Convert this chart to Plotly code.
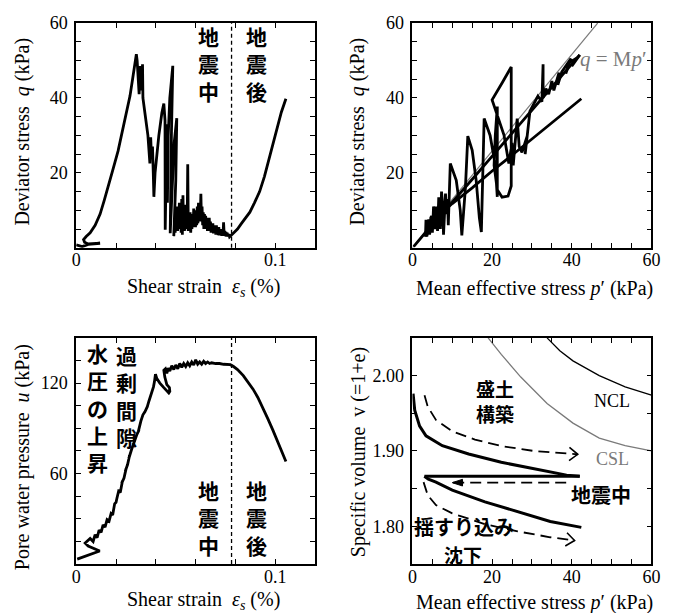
import math
import plotly.graph_objects as go

W, H = 681, 613

# ---------------- data ----------------
# Panel 1: deviator stress q (kPa) vs shear strain eps_s (%)
p1_eps = [0.0000, 0.0030, 0.0060, 0.0120, 0.0060, 0.0042, 0.0037,
          0.0050, 0.0070, 0.0095, 0.0120, 0.0140, 0.0160, 0.0185, 0.0210, 0.0230, 0.0250, 0.0270, 0.0283, 0.0295, 0.0302,
          0.0306, 0.0310, 0.0316, 0.0322, 0.0328, 0.0333, 0.0335, 0.0345, 0.0360, 0.0370, 0.0374, 0.0378, 0.0383, 0.0387,
          0.0390, 0.0396, 0.0403, 0.0415, 0.0430, 0.0440, 0.0446, 0.0448, 0.0447, 0.0450, 0.0453, 0.0456, 0.0458, 0.0462,
          0.0470, 0.0485, 0.0478, 0.0472, 0.0480, 0.0492, 0.0505, 0.0500, 0.0490,
          0.0494, 0.0497, 0.0500, 0.0503, 0.0506, 0.0509, 0.0512, 0.0515, 0.0518, 0.0521, 0.0524, 0.0527, 0.0530,
          0.0533, 0.0536, 0.0539, 0.0542, 0.0545, 0.0548, 0.0551, 0.0554, 0.0557, 0.0560, 0.0563, 0.0566, 0.0569,
          0.0572, 0.0575, 0.0578, 0.0581, 0.0584, 0.0587, 0.0590, 0.0593, 0.0596, 0.0599, 0.0602, 0.0605, 0.0608,
          0.0611, 0.0614, 0.0617, 0.0620, 0.0623, 0.0626, 0.0629, 0.0632, 0.0635, 0.0638, 0.0641, 0.0644, 0.0647,
          0.0650, 0.0653, 0.0656, 0.0659, 0.0662, 0.0665, 0.0668, 0.0671, 0.0674, 0.0677, 0.0680, 0.0683, 0.0686,
          0.0689, 0.0692, 0.0695, 0.0698, 0.0701, 0.0704, 0.0707, 0.0710, 0.0713, 0.0716, 0.0719, 0.0722, 0.0725,
          0.0728, 0.0731, 0.0734, 0.0737, 0.0740, 0.0743, 0.0746, 0.0749, 0.0752, 0.0755, 0.0758, 0.0762, 0.0766,
          0.0770, 0.0774,
          0.0790, 0.0810, 0.0830, 0.0850, 0.0872, 0.0895, 0.0921, 0.0945, 0.0970, 0.0990, 0.1010, 0.1030, 0.1053]
p1_q = [0.8, 0.3, 0.9, 1.2, 1.0, 1.5, 2.2,
        3.0, 4.0, 6.0, 9.0, 12.5, 16.0, 21.0, 25.8, 30.5, 35.5, 40.5, 45.0, 49.0, 51.7,
        50.0, 47.0, 41.0, 48.5, 42.0, 49.0, 40.0, 36.0, 30.0, 22.5, 29.5, 24.0, 27.0, 20.0,
        13.6, 20.0, 24.5, 30.0, 36.0, 38.5, 34.0, 20.0, 4.8, 15.0, 33.0, 26.0, 12.0, 30.0,
        40.0, 48.6, 30.0, 3.9, 12.0, 28.0, 34.6, 18.0, 3.1,
        7.0, 4.0, 9.5, 5.0, 11.0, 4.5, 8.5, 5.0, 12.0, 6.0, 9.0, 4.0, 13.0,
        3.5, 14.0, 5.5, 10.0, 4.5, 11.5, 6.0, 9.0, 5.0, 22.3, 4.5, 8.0, 5.5,
        9.5, 4.0, 8.0, 5.0, 9.0, 5.5, 10.5, 6.0, 9.0, 5.5, 10.0, 6.0, 11.0,
        6.5, 12.0, 7.0, 10.5, 8.0, 14.4, 7.0, 11.0, 6.0, 9.5, 5.0, 9.0, 5.5,
        8.5, 5.0, 8.0, 4.5, 7.5, 5.0, 8.0, 4.5, 7.0, 4.0, 6.5, 4.0, 6.5,
        3.8, 6.0, 3.8, 5.5, 3.5, 6.0, 3.6, 5.0, 3.4, 5.5, 3.3, 4.8, 3.3,
        5.0, 3.2, 4.5, 3.2, 6.8, 3.4, 4.5, 3.1, 4.2, 3.0, 4.0, 3.0, 3.6,
        2.9, 3.1,
        4.0, 5.0, 6.5, 8.0, 9.5, 12.0, 15.0, 19.0, 24.0, 28.5, 32.5, 36.2, 39.8]

# Panel 2: q vs mean effective stress p'
p2_build_p = [0.3, 2.0, 4.0, 6.0, 8.0, 10.0, 13.0, 16.0, 19.0, 22.0, 25.0, 28.0, 31.0, 34.0, 37.0, 40.0, 42.0]
p2_build_q = [0.3, 2.5, 5.0, 7.3, 9.8, 12.2, 15.8, 19.5, 23.2, 27.0, 30.7, 34.3, 38.0, 41.7, 45.4, 49.0, 51.5]
p2_eq_p = [42.0, 40.0, 41.5, 39.5, 38.5, 39.8, 37.5, 36.5, 36.8, 35.5, 35.0, 34.2, 33.5, 32.8, 32.8, 32.5, 31.5,
           30.5, 29.5, 28.3, 28.8, 27.5, 26.8, 26.3, 25.3, 25.0, 24.2, 23.0, 22.0, 20.0, 22.5, 24.8, 24.8, 24.8,
           24.0, 22.5, 21.3, 20.5, 20.8, 21.3, 21.3, 21.3, 20.8, 19.5, 18.0, 17.6, 17.3, 16.8, 16.0, 15.0, 13.9,
           13.3, 12.4, 12.0, 11.0, 9.5, 9.3, 9.0, 8.8, 8.5, 8.3, 8.0, 7.8, 7.6, 7.3, 7.1, 7.0, 6.8, 6.6, 6.4,
           6.3, 6.1, 6.0, 5.8, 5.6, 5.5, 5.3, 5.1, 5.0, 4.8, 4.6, 4.5, 4.3, 4.2, 4.0, 3.8, 3.6, 3.5, 3.4, 3.3, 3.2]
p2_eq_q = [51.5, 48.5, 50.8, 49.5, 46.5, 50.5, 47.0, 43.5, 46.8, 42.0, 44.5, 41.0, 42.5, 40.0, 49.0, 39.0, 40.5,
           38.5, 36.5, 25.0, 29.8, 25.5, 27.0, 34.5, 22.0, 28.0, 22.5, 30.0, 33.0, 39.5, 44.0, 48.3, 30.0, 16.5,
           13.8, 13.5, 15.5, 22.0, 30.0, 37.7, 25.0, 13.6, 22.0, 30.0, 34.5, 20.0, 4.2, 8.0, 18.0, 26.0, 29.8,
           16.0, 3.3, 10.0, 18.0, 22.5, 12.0, 6.0, 13.0, 9.0, 14.5, 8.0, 3.5, 11.0, 15.0, 8.0, 5.0, 12.0, 13.5, 7.0,
           4.5, 9.0, 11.0, 6.0, 5.0, 9.5, 11.0, 6.0, 4.0, 8.5, 8.0, 5.0, 3.5, 7.0, 7.5, 4.0, 3.0, 6.5, 7.5, 4.0, 3.0]
p2_post_p = [3.2, 4.5, 6.5, 10.0, 15.0, 20.0, 25.0, 30.0, 35.0, 38.5, 42.4]
p2_post_q = [3.0, 6.0, 8.5, 11.8, 16.0, 20.5, 24.7, 29.0, 33.3, 36.4, 39.8]
csl_line_p = [0.0, 46.5]
csl_line_q = [0.0, 60.0]

# Panel 3: pore water pressure u (kPa) vs shear strain
p3_eps = [0.0005, 0.0118, 0.0060, 0.0045, 0.0070, 0.0085, 0.0095, 0.0105, 0.0115, 0.0125, 0.0135, 0.0145, 0.0155,
          0.0165, 0.0175, 0.0183, 0.0193, 0.0200, 0.0205, 0.0215, 0.0212, 0.0222, 0.0232, 0.0228, 0.0240, 0.0250,
          0.0246, 0.0258, 0.0268, 0.0264, 0.0278, 0.0288, 0.0284, 0.0296, 0.0305, 0.0316, 0.0312, 0.0325, 0.0335,
          0.0345, 0.0357, 0.0365, 0.0372, 0.0380, 0.0388, 0.0393,
          0.0398, 0.0405, 0.0420, 0.0440, 0.0455, 0.0465, 0.0470, 0.0468, 0.0455, 0.0445, 0.0440, 0.0448, 0.0455,
          0.0462, 0.0470, 0.0480, 0.0490, 0.0500, 0.0510, 0.0520, 0.0530, 0.0540, 0.0550, 0.0560, 0.0570, 0.0580,
          0.0590, 0.0600, 0.0610, 0.0620, 0.0630, 0.0640, 0.0650, 0.0660, 0.0670, 0.0680, 0.0700, 0.0720, 0.0740,
          0.0760, 0.0774, 0.0790, 0.0810, 0.0839, 0.0865, 0.0888, 0.0912, 0.0937, 0.0962, 0.0987, 0.1008, 0.1028,
          0.1053]
p3_u = [3.3, 8.7, 12.0, 14.0, 17.0, 15.0, 19.5, 17.5, 22.5, 21.0, 26.0, 24.5, 29.5,
        28.5, 33.5, 32.5, 40.0, 41.0, 44.0, 49.5, 47.5, 48.0, 55.0, 53.5, 57.0, 63.0,
        61.5, 66.0, 72.0, 70.0, 76.0, 80.0, 78.5, 83.5, 86.0, 89.0, 88.0, 95.0, 99.0,
        101.0, 104.4, 108.0, 111.0, 113.5, 117.5, 121.0,
        126.0, 123.0, 120.0, 117.0, 115.0, 113.5, 114.5, 117.0, 119.0, 124.0, 128.5, 129.5, 126.5,
        130.0, 128.0, 131.5, 129.0, 132.0, 129.5, 133.0, 130.5, 133.0, 131.0, 133.5, 131.5, 134.0,
        132.0, 135.5, 132.5, 134.0, 132.5, 134.5, 133.0, 134.0, 133.0, 133.5, 133.0, 133.0, 132.5,
        132.5, 132.2, 131.0, 129.0, 125.0, 120.5, 116.0, 110.5, 104.0, 96.5, 89.0, 82.0, 76.0,
        68.0]
eq_end_strain = 0.078

# Panel 4: specific volume v vs p'
ncl_p = [33.8, 37.0, 40.3, 46.9, 53.4, 60.0]
ncl_v = [2.050, 2.033, 2.0195, 2.000, 1.985, 1.974]
csl_p = [19.0, 22.3, 27.2, 33.8, 40.3, 46.9, 53.4, 60.0]
csl_v = [2.050, 2.028, 1.998, 1.963, 1.937, 1.917, 1.907, 1.900]
build_p = [0.16, 0.57, 1.8, 3.4, 7.5, 14.1, 22.3, 30.5, 38.7, 42.0]
build_v = [1.976, 1.954, 1.933, 1.920, 1.907, 1.896, 1.885, 1.876, 1.868, 1.8665]
quake_p = [42.0, 3.0]
quake_v = [1.8665, 1.8665]
settle_p = [3.0, 4.0, 5.9, 10.0, 18.2, 26.4, 34.6, 42.4]
settle_v = [1.8665, 1.8625, 1.8587, 1.848, 1.8326, 1.8196, 1.8065, 1.7987]
arrow1_p = [3.03, 3.85, 5.90, 10.0, 15.7, 22.3, 30.5, 40.3, 41.5]
arrow1_v = [1.9738, 1.9587, 1.9412, 1.9261, 1.9152, 1.9065, 1.9000, 1.8958, 1.8956]
arrow2_p = [38.6, 10.0]
arrow2_v = [1.858, 1.858]
arrow3_p = [2.79, 3.85, 5.90, 10.0, 18.2, 26.4, 34.6, 40.7]
arrow3_v = [1.8587, 1.8413, 1.8283, 1.8173, 1.8030, 1.7934, 1.7856, 1.7813]

# ---------------- layout geometry ----------------
LX = (72.7, 316.7)
RX = (416.0, 660.0)
TY = (13.3, 241.7)
BY = (333.3, 563.3)

def xdom(px):
    return [px[0] / W, px[1] / W]

def ydom(py):
    return [1 - py[1] / H, 1 - py[0] / H]

SERIF = "Liberation Serif, Times New Roman, DejaVu Serif, serif"
CJK = "Noto Sans CJK JP"
BLACK = "#000000"
GRAY = "#7a7a7a"

fig = go.Figure()

def line(x, y, xa, ya, width=2.8, color=BLACK, dash=None):
    fig.add_trace(go.Scatter(x=x, y=y, mode="lines", xaxis=xa, yaxis=ya,
                             line=dict(color=color, width=width, dash=dash),
                             showlegend=False, hoverinfo="skip"))

# panel 1
line(p1_eps, p1_q, "x", "y")
# panel 2
line(csl_line_p, csl_line_q, "x2", "y2", width=1.2, color=GRAY)
line(p2_build_p, p2_build_q, "x2", "y2")
line(p2_eq_p, p2_eq_q, "x2", "y2")
line(p2_post_p, p2_post_q, "x2", "y2")
# panel 3
line(p3_eps, p3_u, "x3", "y3")
# panel 4
line(ncl_p, ncl_v, "x4", "y4", width=1.3, color=BLACK)
line(csl_p, csl_v, "x4", "y4", width=1.3, color=GRAY)
line(build_p, build_v, "x4", "y4", width=3)
line(quake_p, quake_v, "x4", "y4", width=3)
line(settle_p, settle_v, "x4", "y4", width=3)
line(arrow1_p, arrow1_v, "x4", "y4", width=1.8, dash="11px,6px")
line(arrow2_p, arrow2_v, "x4", "y4", width=1.8, dash="11px,6px")
line(arrow3_p, arrow3_v, "x4", "y4", width=1.8, dash="11px,6px")

# arrowheads (computed in pixel space from the arrow data)
X4RANGE = (0, 60)
Y4RANGE = (1.75, 2.05)
sx = (RX[1] - RX[0]) / (X4RANGE[1] - X4RANGE[0])
sy = (BY[1] - BY[0]) / (Y4RANGE[1] - Y4RANGE[0])

def to_px(p, v):
    return p * sx, -v * sy

def to_data(X, Y):
    return X / sx, -Y / sy

def head_pts(xs, ys, length, half_angle_deg):
    tx, ty = to_px(xs[-1], ys[-1])
    bx, by = to_px(xs[-2], ys[-2])
    dx, dy = tx - bx, ty - by
    n = math.hypot(dx, dy)
    bxv, byv = -dx / n, -dy / n
    pts = []
    for s in (1, -1):
        a = math.radians(half_angle_deg) * s
        rx = bxv * math.cos(a) - byv * math.sin(a)
        ry = bxv * math.sin(a) + byv * math.cos(a)
        pts.append(to_data(tx + length * rx, ty + length * ry))
    return (xs[-1], ys[-1]), pts

for ax_, ay_ in ((arrow1_p, arrow1_v), (arrow3_p, arrow3_v)):
    tip, (a, b) = head_pts(ax_, ay_, 11, 38)
    line([a[0], tip[0], b[0]], [a[1], tip[1], b[1]], "x4", "y4", width=1.6)

tip, (a, b) = head_pts(arrow2_p, arrow2_v, 11, 18)
fig.add_trace(go.Scatter(x=[a[0], tip[0], b[0], a[0]], y=[a[1], tip[1], b[1], a[1]], mode="lines",
                         fill="toself", fillcolor=BLACK, line=dict(color=BLACK, width=1),
                         xaxis="x4", yaxis="y4", showlegend=False, hoverinfo="skip"))

# vertical dashed lines (end of earthquake)
for xa, ya in (("x", "y"), ("x3", "y3")):
    fig.add_shape(type="line", xref=xa, yref=ya + " domain", x0=eq_end_strain, x1=eq_end_strain,
                  y0=0, y1=1, line=dict(color=BLACK, width=1.3, dash="4px,3px"))

# ---------------- axes ----------------
tickfont = dict(family=SERIF, size=18, color=BLACK)

def axis(domain, rng, major, labels, minor, anchor, standoff):
    return dict(domain=domain, range=list(rng), anchor=anchor, showgrid=False, zeroline=False,
                showline=True, linecolor=BLACK, linewidth=1.8, mirror="ticks",
                ticks="inside", ticklen=5, tickwidth=1.3, tickcolor=BLACK,
                tickmode="array", tickvals=major, ticktext=labels, tickfont=tickfont,
                ticklabelstandoff=standoff,
                minor=dict(tickmode="array", tickvals=minor, ticks="inside", ticklen=5,
                           tickwidth=1.3, tickcolor=BLACK, showgrid=False),
                fixedrange=True)

strain_major = [0.0, 0.10]
strain_text = ["0", "0.1"]
strain_minor = [0.02, 0.04, 0.06, 0.08, 0.12]
p_major = [0, 20, 40, 60]
p_text = ["0", "20", "40", "60"]
p_minor = [5, 10, 15, 25, 30, 35, 45, 50, 55]
q_major = [20, 40, 60]
q_text = ["20", "40", "60"]
q_minor = [0, 5, 10, 15, 25, 30, 35, 45, 50, 55]
u_major = [60, 120]
u_text = ["60", "120"]
u_minor = [0, 15, 30, 45, 75, 90, 105, 135, 150]
v_major = [1.80, 1.90, 2.00]
v_text = ["1.80", "1.90", "2.00"]
v_minor = [1.75, 1.85, 1.95, 2.05]

XS = -5
YS = 3
fig.update_layout(
    width=W, height=H, margin=dict(l=0, r=0, t=0, b=0),
    paper_bgcolor="white", plot_bgcolor="white", showlegend=False,
    xaxis=axis(xdom(LX), (0, 0.12), strain_major, strain_text, strain_minor, "y", XS),
    yaxis=axis(ydom(TY), (0, 60), q_major, q_text, q_minor, "x", YS),
    xaxis2=axis(xdom(RX), (0, 60), p_major, p_text, p_minor, "y2", XS),
    yaxis2=axis(ydom(TY), (0, 60), q_major, q_text, q_minor, "x2", YS),
    xaxis3=axis(xdom(LX), (0, 0.12), strain_major, strain_text, strain_minor, "y3", XS),
    yaxis3=axis(ydom(BY), (0, 150), u_major, u_text, u_minor, "x3", YS),
    xaxis4=axis(xdom(RX), X4RANGE, p_major, p_text, p_minor, "y4", XS),
    yaxis4=axis(ydom(BY), Y4RANGE, v_major, v_text, v_minor, "x4", YS),
)

# ---------------- text ----------------
ann = []

def text(X, Y, s, size=20, family=SERIF, color=BLACK, angle=0, weight="normal"):
    ann.append(dict(x=X / W, y=1 - Y / H, xref="paper", yref="paper", text=s, showarrow=False,
                    font=dict(family=family, size=size, color=color, weight=weight), textangle=angle,
                    xanchor="center", yanchor="middle"))

# axis titles
text(18, 124, "Deviator stress  <i>q</i> (kPa)", angle=-90)
text(360, 124, "Deviator stress  <i>q</i> (kPa)", angle=-90)
text(18, 455, "Pore water pressure  <i>u</i> (kPa)", angle=-90)
text(361, 450, "Specific volume  v (=1+e)", angle=-90)
text(203, 282, "Shear strain  <i>ε<sub>s</sub></i> (%)")
text(541, 283, "Mean effective stress <i>p</i>′ (kPa)")
text(203, 600, "Shear strain  <i>ε<sub>s</sub></i> (%)")
text(541, 602, "Mean effective stress <i>p</i>′ (kPa)")

def cjk(X, Y, s, size=21, weight=600):
    text(X, Y, s, size=size, family=CJK, weight=weight)

def vertical(X, Yc, chars, size=21):
    cjk(X, Yc, "<br>".join(chars), size)

vertical(207.5, 54, "地震中")
vertical(256.5, 54, "地震後")
vertical(207.5, 516, "地震中")
vertical(256.5, 516, "地震後")
vertical(124.5, 392, "過剰間隙")
vertical(94.5, 404, "水圧の上昇")

cjk(500, 397, "盛土<br>構築", size=19)
cjk(609, 493, "地震中", size=20)
cjk(469, 525, "揺すり込み", size=20)
cjk(468, 554, "沈下", size=19)
text(620, 397, "NCL", size=18)
text(620, 456, "CSL", size=18, color=GRAY)
text(621, 50, "<i>q</i> = M<i>p</i>′", size=21, color=GRAY)

fig.update_layout(annotations=ann)

fig.write_html("out.html")
